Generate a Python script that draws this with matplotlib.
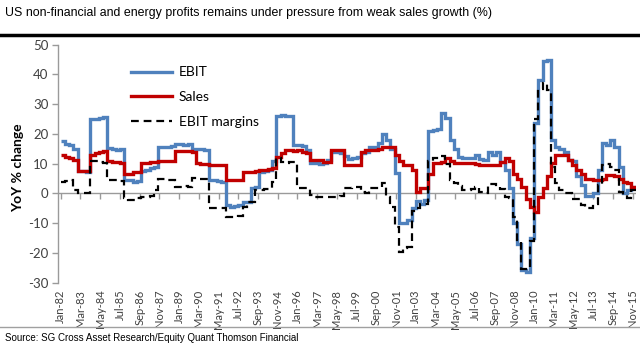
import numpy as np
import pandas as pd
import matplotlib
matplotlib.use("Agg")
import matplotlib.pyplot as plt
import matplotlib.dates as mdates
from matplotlib.lines import Line2D

# ---------------- data (quarterly, YoY %) ----------------
quarters = pd.date_range("1982-01-01", periods=137, freq="QS")  # 136 quarters + closing edge

ebit = [
    17.5, 16.5, 16.3, 15.0, 7.5, 7.5, 7.2, 25.0,
    25.0, 25.2, 25.8, 15.2, 15.0, 14.5, 14.8, 4.5,
    4.5, 3.8, 4.2, 7.5, 8.0, 8.5, 9.0, 15.5,
    15.7, 15.7, 16.0, 16.6, 16.6, 16.4, 16.6, 15.0,
    14.8, 14.8, 14.6, 4.5, 4.5, 4.3, 3.8, -4.0,
    -4.5, -4.3, -4.0, -3.0, -3.0, 2.0, 2.2, 7.3,
    7.5, 8.0, 11.0, 26.0, 26.4, 26.0, 26.0, 16.3,
    16.3, 16.0, 14.6, 10.2, 10.2, 10.0, 10.2, 11.2,
    14.0, 14.0, 13.5, 12.5, 11.5, 12.0, 12.3, 13.5,
    14.0, 15.5, 15.7, 17.0, 20.0, 18.0, 15.0, 7.0,
    -10.0, -10.1, -9.0, -5.0, -2.5, -3.5, -2.2, 21.0,
    21.3, 21.5, 26.9, 25.5, 18.0, 15.0, 12.3, 11.8,
    11.8, 12.0, 12.9, 11.5, 11.2, 14.0, 13.0, 14.0,
    10.5, 8.0, 2.0, -10.0, -17.0, -25.8, -26.4, -15.0,
    23.6, 38.2, 44.5, 44.9, 18.0, 15.7, 14.8, 14.0,
    11.2, 11.0, 6.0, 3.0, -1.0, -1.0, 0.0, 8.0,
    16.8, 16.3, 18.0, 15.7, 9.0, 0.0, 1.0, 2.2,
]

sales = [
    13.0, 12.3, 12.0, 11.2, 7.6, 7.6, 7.4, 12.9,
    13.5, 14.0, 14.3, 11.0, 10.6, 10.5, 10.4, 6.7,
    6.7, 7.3, 7.3, 10.3, 10.3, 10.5, 10.6, 10.9,
    10.9, 11.0, 11.0, 14.3, 14.3, 14.3, 14.3, 14.0,
    10.1, 10.0, 9.8, 9.6, 9.6, 9.5, 9.5, 4.5,
    4.5, 4.5, 4.6, 7.3, 7.3, 7.3, 7.5, 7.8,
    8.0, 8.3, 8.5, 12.3, 13.5, 14.5, 14.5, 14.3,
    14.5, 14.0, 13.5, 11.2, 11.2, 11.4, 10.6, 10.6,
    14.6, 14.6, 14.6, 9.5, 9.5, 9.5, 9.5, 14.0,
    14.6, 14.6, 14.6, 15.0, 15.7, 15.7, 15.5, 12.9,
    11.0, 9.5, 9.5, 7.9, 0.6, 1.7, 1.7, 6.7,
    10.1, 10.1, 10.5, 11.8, 11.0, 10.1, 10.1, 10.1,
    10.1, 10.1, 9.8, 9.5, 9.5, 9.5, 9.5, 9.5,
    10.5, 11.8, 11.0, 6.7, 5.0, 2.2, -2.0, -4.5,
    -6.2, -1.1, 2.0, 6.0, 10.1, 12.9, 12.9, 13.0,
    11.2, 9.5, 7.9, 6.5, 5.0, 5.0, 4.5, 4.5,
    5.0, 6.2, 6.2, 6.0, 5.0, 3.9, 3.5, 2.2,
]

margins = [
    3.9, 4.2, 4.5, 1.0, 0.0, 0.0, 0.0, 10.9,
    10.9, 10.5, 10.2, 4.5, 4.5, 4.5, 4.3, -1.5,
    -2.3, -2.3, -1.5, -1.1, -1.1, -1.0, 1.1, 4.7,
    4.7, 4.5, 4.5, 2.2, 2.2, 2.5, 2.2, 5.1,
    5.1, 5.0, 5.0, -5.0, -5.0, -5.0, -5.0, -7.9,
    -7.9, -8.0, -7.5, -4.7, -3.0, -3.0, 1.1, 1.1,
    1.5, 1.5, 4.0, 11.8, 10.5, 10.2, 10.7, 10.7,
    1.7, 2.0, 1.7, -0.5, -1.1, -1.1, -1.1, -1.1,
    -1.1, -1.1, -1.0, 2.0, 2.0, 2.2, 2.2, 0.5,
    0.0, 1.7, 1.7, 1.7, 3.4, -1.1, -4.5, -11.2,
    -19.6, -18.5, -18.0, -6.0, -5.0, -3.4, -3.4, 11.0,
    11.8, 11.8, 12.5, 10.0, 4.5, 3.4, 2.5, 1.1,
    1.1, 1.5, 2.2, 0.5, 0.0, 3.1, 3.1, 2.2,
    1.5, -1.1, -1.5, -7.9, -15.7, -25.3, -25.3, -16.0,
    25.0, 35.0, 37.0, 34.8, 9.0, 3.4, 1.0, 0.0,
    0.0, -1.7, -1.7, -4.0, -5.0, -5.0, -3.4, 3.0,
    9.5, 10.0, 9.0, 7.9, 0.6, -0.6, -1.5, 1.0,
]

tick_dates = pd.date_range("1982-01-01", periods=30, freq="14MS")
tick_labels = [
    "Jan-82", "Mar-83", "May-84", "Jul-85", "Sep-86", "Nov-87", "Jan-89",
    "Mar-90", "May-91", "Jul-92", "Sep-93", "Nov-94", "Jan-96", "Mar-97",
    "May-98", "Jul-99", "Sep-00", "Nov-01", "Jan-03", "Mar-04", "May-05",
    "Jul-06", "Sep-07", "Nov-08", "Jan-10", "Mar-11", "May-12", "Jul-13",
    "Sep-14", "Nov-15",
]
y_ticks = [-30, -20, -10, 0, 10, 20, 30, 40, 50]

title = "US non-financial and energy profits remains under pressure from weak sales growth (%)"
source = "Source: SG Cross Asset Research/Equity Quant Thomson Financial"

# ---------------- figure ----------------
W, H = 640, 360
fig = plt.figure(figsize=(W / 100, H / 100), dpi=100)
fig.patch.set_facecolor("white")

narrow = ["Liberation Sans", "DejaVu Sans"]
body = ["Lato", "DejaVu Sans"]

ax = fig.add_axes([58 / W, 1 - 282.7 / H, (636 - 58) / W, (282.7 - 44.7) / H])

edges = mdates.date2num(quarters.to_pydatetime())
blue = "#4F81BD"
red = "#C00000"
ax.stairs(ebit, edges, baseline=None, color=blue, lw=2.4, zorder=3)
ax.stairs(sales, edges, baseline=None, color=red, lw=2.4, zorder=4)
ax.stairs(margins, edges, baseline=None, color="black", lw=1.6,
          linestyle=(0, (3.5, 2.2)), zorder=5)

xmin = mdates.date2num(pd.Timestamp("1981-11-01"))
xmax = mdates.date2num(pd.Timestamp("2016-01-10"))
ax.set_xlim(xmin, xmax)
ax.set_ylim(-30, 50)

axis_grey = "#9A9A9A"
for s in ["top", "right", "bottom"]:
    ax.spines[s].set_visible(False)
ax.spines["left"].set_color(axis_grey)
ax.spines["left"].set_linewidth(1.0)

ax.set_yticks(y_ticks)
ax.set_yticklabels([str(v) for v in y_ticks], fontfamily=body, fontsize=9.5, color="#404040")
ax.tick_params(axis="y", direction="out", length=4, width=1, color=axis_grey, pad=3)

tnum = mdates.date2num(tick_dates.to_pydatetime())
ax.set_xticks(tnum)
ax.set_xticklabels(tick_labels, rotation=90, fontfamily=body, fontsize=8, color="#404040")
ax.tick_params(axis="x", length=0, pad=5)

# zero line with tick marks
ax.axhline(0, color=axis_grey, lw=1.0, zorder=1)
sec = ax.secondary_xaxis(30 / 80)
sec.spines["bottom"].set_visible(False)
sec.set_xticks(tnum)
sec.set_xticklabels([])
sec.tick_params(axis="x", direction="out", length=4, width=1, color=axis_grey)

fig.text(18 / W, 1 - 168 / H, "YoY % change", rotation=90, ha="center", va="center",
         fontfamily=body, fontsize=10, fontweight="bold", color="black")

# legend
handles = [
    Line2D([], [], color=blue, lw=2.4),
    Line2D([], [], color=red, lw=2.4),
    Line2D([], [], color="black", lw=1.6, linestyle=(0, (3.5, 2.2))),
]
leg = ax.legend(handles, ["EBIT", "Sales", "EBIT margins"], loc="upper left",
                bbox_to_anchor=(131 / W, 1 - 66.5 / H), bbox_transform=fig.transFigure,
                frameon=False, borderpad=0, borderaxespad=0, handlelength=2.95,
                handletextpad=0.5, labelspacing=0.92,
                prop={"family": body, "size": 10})

# title and rule
fig.text(5 / W, 1 - 13 / H, title, ha="left", va="center", fontfamily=narrow,
         fontsize=8.9, color="black")
fig.add_artist(Line2D([0, 1], [1 - 34.5 / H, 1 - 34.5 / H], transform=fig.transFigure,
                      color="black", lw=2.5))

# bottom rule and source
fig.add_artist(Line2D([0, 1], [1 - 327 / H, 1 - 327 / H], transform=fig.transFigure,
                      color="#A0A0A0", lw=1.0))
fig.text(5 / W, 1 - 338 / H, source, ha="left", va="center", fontfamily=narrow,
         fontsize=7.0, color="black")

fig.savefig("out.png", dpi=100, facecolor="white")
